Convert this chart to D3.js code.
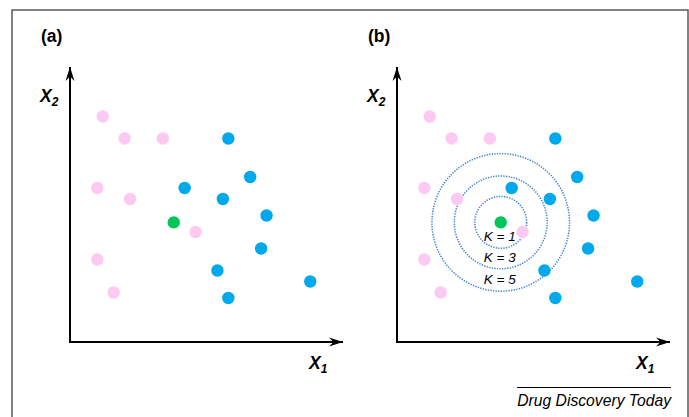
<!DOCTYPE html>
<html>
<head>
<meta charset="utf-8">
<script src="https://cdn.jsdelivr.net/npm/d3@7"></script>
<style>
    body { margin: 0; background: #fff; }
    svg { display: block; font-family: Arial, "Liberation Sans", sans-serif; }
</style>
</head>
<body>
<svg id="chart" width="689" height="417"></svg>
<script>
// Class A (pink) points, axis units 0-100
const pinkX = [12, 20, 34, 10, 22, 46, 10, 16];
const pinkY = [82, 74, 74, 56, 52, 40, 30, 18];

// Class B (blue) points
const blueX = [58, 66, 42, 56, 72, 70, 54, 58, 88];
const blueY = [74, 60, 56, 52, 46, 34, 26, 16, 22];

// Query point (green)
const queryX = [38];
const queryY = [43.5];

// Neighbourhood radii (x units) and labels for panel (b)
const kRadii = [9.5, 17, 25.2];
const kLabels = ['K = 1', 'K = 3', 'K = 5'];

const panelLabels = ['(a)', '(b)'];

const svg = d3.select('#chart');
const width = +svg.attr('width');

const colours = { pink: '#fcc9f2', blue: '#00a8ec', green: '#00c65a', ring: '#3a80d4' };

// Frame
svg.append('rect')
    .attr('x', 12)
    .attr('y', 10)
    .attr('width', width - 13)
    .attr('height', 420)
    .style('fill', 'none')
    .style('stroke', '#5a5a5a')
    .style('stroke-width', 1.5);

// Arrow head marker
const defs = svg.append('defs');
defs.append('marker')
    .attr('id', 'arrow')
    .attr('viewBox', '-14 -6 15 12')
    .attr('refX', 0)
    .attr('refY', 0)
    .attr('markerUnits', 'userSpaceOnUse')
    .attr('markerWidth', 15)
    .attr('markerHeight', 12)
    .attr('orient', 'auto')
    .append('path')
    .attr('d', 'M0,0 L-14,-4.5 L-9.5,0 L-14,4.5 Z')
    .style('fill', '#000');

const x = d3.scaleLinear().domain([0, 100]).range([70, 343]);
const y = d3.scaleLinear().domain([0, 100]).range([342, 67]);

const pink = pinkX.map((d, i) => ({ x: d, y: pinkY[i] }));
const blue = blueX.map((d, i) => ({ x: d, y: blueY[i] }));
const query = queryX.map((d, i) => ({ x: d, y: queryY[i] }));

panelLabels.forEach((label, p) => {
    const g = svg.append('g')
        .attr('class', 'panel')
        .attr('transform', `translate(${p * 327}, 0)`);

    g.append('text')
        .attr('x', 41)
        .attr('y', 42)
        .style('font-size', '17.5px')
        .style('font-weight', 'bold')
        .text(label);

    // Rings first so points sit above them
    if (p === 1) {
        const q = query[0];
        const rings = g.append('g').attr('class', 'rings');
        rings.selectAll('circle')
            .data(kRadii)
            .enter()
            .append('circle')
            .attr('cx', x(q.x))
            .attr('cy', y(q.y))
            .attr('r', (d) => x(d) - x(0))
            .style('fill', 'none')
            .style('stroke', colours.ring)
            .style('stroke-width', 1.5)
            .style('stroke-dasharray', '1.3 1.3');
    }

    const dots = g.append('g').attr('class', 'dots');
    const addDots = (data, colour) => {
        dots.selectAll(null)
            .data(data)
            .enter()
            .append('circle')
            .attr('cx', (d) => x(d.x))
            .attr('cy', (d) => y(d.y))
            .attr('r', 6.2)
            .style('fill', colour);
    };
    addDots(pink, colours.pink);
    addDots(blue, colours.blue);
    addDots(query, colours.green);

    if (p === 1) {
        const q = query[0];
        g.append('g')
            .selectAll('text')
            .data(kRadii)
            .enter()
            .append('text')
            .attr('x', x(q.x) - 1)
            .attr('y', (d) => y(q.y) + (x(d) - x(0)) - 7)
            .style('text-anchor', 'middle')
            .style('font-size', '13.5px')
            .style('font-style', 'italic')
            .text((d, i) => kLabels[i]);
    }

    // Axes
    const [x0, x1] = x.range();
    const [y0, y1] = y.range();
    g.append('path')
        .attr('d', `M${x0},${y1} L${x0},${y0} L${x1},${y0}`)
        .style('fill', 'none')
        .style('stroke', '#000')
        .style('stroke-width', 2);
    g.append('line')
        .attr('x1', x0).attr('y1', y0)
        .attr('x2', x0).attr('y2', y1)
        .style('stroke', 'none')
        .attr('marker-end', 'url(#arrow)');
    g.append('line')
        .attr('x1', x0).attr('y1', y0)
        .attr('x2', x1).attr('y2', y0)
        .style('stroke', 'none')
        .attr('marker-end', 'url(#arrow)');

    // Axis titles
    const yTitle = g.append('text')
        .attr('x', 40)
        .attr('y', 102)
        .style('font-size', '17.5px')
        .style('font-weight', 'bold')
        .style('font-style', 'italic');
    yTitle.append('tspan').text('X');
    yTitle.append('tspan').attr('dy', 4).style('font-size', '12px').text('2');

    const xTitle = g.append('text')
        .attr('x', 309)
        .attr('y', 369)
        .style('font-size', '17.5px')
        .style('font-weight', 'bold')
        .style('font-style', 'italic');
    xTitle.append('tspan').text('X');
    xTitle.append('tspan').attr('dy', 4).style('font-size', '12px').text('1');
});

// Journal credit
svg.append('line')
    .attr('x1', 517).attr('x2', 671)
    .attr('y1', 387.5).attr('y2', 387.5)
    .style('stroke', '#000')
    .style('stroke-width', 1);

svg.append('text')
    .attr('x', 671)
    .attr('y', 406)
    .style('text-anchor', 'end')
    .style('font-size', '15.7px')
    .style('font-style', 'italic')
    .text('Drug Discovery Today');
</script>
</body>
</html>
